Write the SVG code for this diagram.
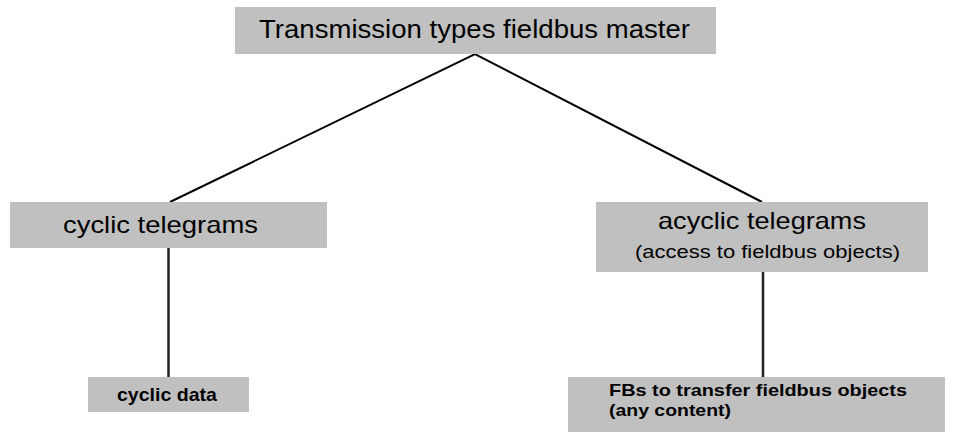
<svg xmlns="http://www.w3.org/2000/svg" width="953" height="432" viewBox="0 0 953 432">
<style>
.box{fill:#c0c0c0;}
.t{font-family:"Liberation Sans",Arial,sans-serif;fill:#000;}
.b{font-weight:bold;}
.ln{stroke:#000;stroke-width:2;fill:none;}
.vl{stroke:#222;stroke-width:2.5;fill:none;}
</style>
<rect width="953" height="432" fill="#fff"/>
<g id="connectors">
<polyline class="ln" points="170,202 475,54 762,202"/>
<line class="vl" x1="168.5" y1="248" x2="168.5" y2="377"/>
<line class="vl" x1="763" y1="272" x2="763" y2="377"/>
</g>
<g id="root">
<rect class="box" x="235" y="7" width="481" height="47"/>
<text class="t" x="259" y="37.5" font-size="25" textLength="431" lengthAdjust="spacingAndGlyphs">Transmission types fieldbus master</text>
</g>
<g id="cyclic">
<rect class="box" x="10" y="202" width="317" height="46"/>
<text class="t" x="63" y="233" font-size="24" textLength="195" lengthAdjust="spacingAndGlyphs">cyclic telegrams</text>
</g>
<g id="acyclic">
<rect class="box" x="596" y="202" width="332" height="70"/>
<text class="t" x="658" y="229" font-size="24" textLength="208" lengthAdjust="spacingAndGlyphs">acyclic telegrams</text>
<text class="t" x="635" y="258" font-size="17.5" textLength="265" lengthAdjust="spacingAndGlyphs">(access to fieldbus objects)</text>
</g>
<g id="cyclic-data">
<rect class="box" x="88" y="377" width="161" height="35"/>
<text class="t b" x="117" y="401" font-size="19" textLength="100" lengthAdjust="spacingAndGlyphs">cyclic data</text>
</g>
<g id="fbs">
<rect class="box" x="568" y="377" width="377" height="60"/>
<text class="t b" x="609" y="396" font-size="17" textLength="298" lengthAdjust="spacingAndGlyphs">FBs to transfer fieldbus objects</text>
<text class="t b" x="609" y="416" font-size="17" textLength="122" lengthAdjust="spacingAndGlyphs">(any content)</text>
</g>
</svg>
